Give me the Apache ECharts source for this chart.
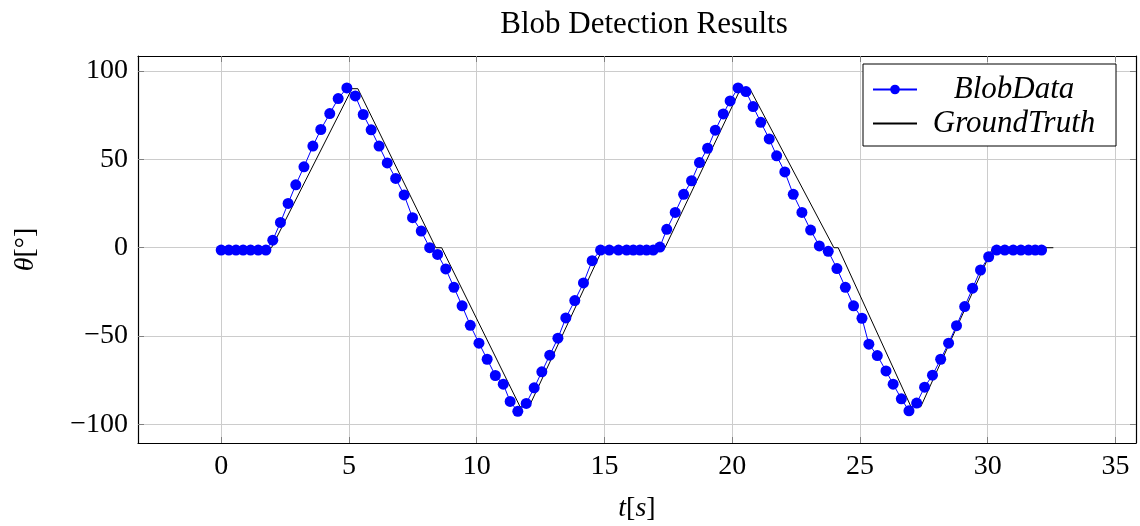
<!DOCTYPE html>
<html>
<head>
<meta charset="utf-8">
<script src="https://cdn.jsdelivr.net/npm/echarts@6/dist/echarts.min.js"></script>
<style>
html,body{margin:0;padding:0;background:#fff;}
#chart{width:1140px;height:526px;}
</style>
</head>
<body>
<div id="chart"></div>
<script>
// ---- data ----
const blobT = [0.00,0.30,0.58,0.86,1.15,1.45,1.75,2.02,2.32,2.62,2.92,3.24,3.59,3.90,4.25,4.58,4.92,5.25,5.56,5.87,6.18,6.50,6.83,7.16,7.49,7.83,8.16,8.47,8.79,9.11,9.43,9.75,10.09,10.41,10.73,11.04,11.31,11.61,11.94,12.25,12.55,12.86,13.18,13.49,13.84,14.18,14.52,14.85,15.19,15.55,15.87,16.13,16.39,16.65,16.91,17.17,17.44,17.77,18.10,18.41,18.72,19.04,19.34,19.65,19.92,20.23,20.54,20.82,21.12,21.45,21.74,22.06,22.39,22.73,23.07,23.41,23.76,24.10,24.43,24.75,25.08,25.35,25.68,26.02,26.30,26.62,26.92,27.22,27.53,27.84,28.16,28.47,28.78,29.10,29.41,29.72,30.04,30.35,30.67,31.00,31.30,31.60,31.86,32.11];
const blobTheta = [-1.3,-1.3,-1.3,-1.3,-1.3,-1.3,-1.3,4.3,14.3,25.1,35.6,45.8,57.5,66.9,75.9,84.4,90.4,85.9,75.4,66.7,57.5,48.0,39.2,29.9,17.0,9.4,0.0,-3.8,-12.0,-22.4,-32.9,-43.9,-54.0,-63.1,-72.3,-77.2,-87.0,-92.6,-88.1,-79.3,-70.2,-60.8,-51.2,-39.7,-29.9,-19.9,-7.3,-1.3,-1.3,-1.3,-1.3,-1.3,-1.3,-1.3,-1.3,0.4,10.4,20.0,30.2,37.9,48.2,56.3,66.5,75.7,83.1,90.4,88.4,79.9,71.0,61.6,52.0,42.9,30.2,20.0,10.0,1.0,-2.0,-11.8,-22.4,-32.9,-39.9,-54.6,-61.0,-69.7,-77.2,-85.5,-92.3,-87.9,-78.9,-72.1,-63.1,-54.0,-44.1,-33.3,-22.9,-12.6,-5.1,-1.3,-1.3,-1.3,-1.3,-1.3,-1.3,-1.3];
const truthT = [0,1.97,5.12,5.35,8.40,8.63,11.70,12.05,14.95,17.37,20.33,20.69,23.98,24.15,27.00,27.38,30.20,32.57];
const truthTheta = [0,0,90,90,0,0,-90,-90,0,0,90,90,0,0,-90,-90,0,0];
const xTicks = [0,5,10,15,20,25,30,35];
const yTicks = [-100,-50,0,50,100];
const seriesNames = ['BlobData','GroundTruth'];
const titleText = 'Blob Detection Results';

const blobData = blobT.map((t,i)=>[t,blobTheta[i]]);
const truthData = truthT.map((t,i)=>[t,truthTheta[i]]);

const FONT = '"Liberation Serif", "Times New Roman", serif';
const fmtNum = v => (v < 0 ? '\u2212' + Math.abs(v) : String(v));

const xMin = -3.255, xMax = 35.805, yMin = -110.5, yMax = 108.5;

const commonSplit = {show:true, lineStyle:{color:'#cccccc', width:1}};
const chart = echarts.init(document.getElementById('chart'), null, {renderer:'canvas'});
chart.setOption({
  animation:false,
  backgroundColor:'#ffffff',
  title:{
    text:titleText, left:639, top:4, textAlign:'center',
    textStyle:{fontFamily:FONT, fontSize:31, fontWeight:'normal', color:'#000'}
  },
  grid:{left:138, right:4, top:56, bottom:83, containLabel:false, outerBoundsMode:'none'},
  legend:{
    data:seriesNames, orient:'vertical', right:24, top:64,
    backgroundColor:'#fff', borderColor:'#000', borderWidth:1,
    padding:[10,10,7,9], itemWidth:44, itemHeight:12, itemGap:3,
    formatter: name => '{c|' + name + '}',
    textStyle:{
      fontFamily:FONT, fontStyle:'italic', fontSize:31, color:'#000',
      rich:{c:{width:184, align:'center', fontFamily:FONT, fontStyle:'italic', fontSize:31, lineHeight:35}}
    }
  },
  xAxis:[{
    type:'value', min:xMin, max:xMax, position:'bottom',
    axisLine:{show:true, onZero:false, lineStyle:{color:'#000', width:1.2}},
    axisTick:{show:true, inside:true, length:6, customValues:xTicks, lineStyle:{color:'#808080'}},
    axisLabel:{show:true, customValues:xTicks, margin:10, formatter:fmtNum,
      fontFamily:FONT, fontSize:28, color:'#000'},
    splitLine:commonSplit,
    name:'{i|t}[{i|s}]', nameLocation:'middle', nameGap:52,
    nameTextStyle:{fontFamily:FONT, fontSize:28, color:'#000',
      rich:{i:{fontFamily:FONT, fontStyle:'italic', fontSize:28, color:'#000'}}}
  },{
    type:'value', min:xMin, max:xMax, position:'top',
    axisLine:{show:true, onZero:false, lineStyle:{color:'#000', width:1.2}},
    axisTick:{show:true, inside:true, length:6, customValues:xTicks, lineStyle:{color:'#808080'}},
    axisLabel:{show:false}, splitLine:{show:false}
  }],
  yAxis:[{
    type:'value', min:yMin, max:yMax, position:'left',
    axisLine:{show:true, onZero:false, lineStyle:{color:'#000', width:1.2}},
    axisTick:{show:true, inside:true, length:6, customValues:yTicks, lineStyle:{color:'#808080'}},
    axisLabel:{show:true, customValues:yTicks, margin:10, formatter:fmtNum,
      fontFamily:FONT, fontSize:28, color:'#000'},
    splitLine:commonSplit,
    name:'{i|\u03b8}[\u00b0]', nameLocation:'middle', nameGap:98,
    nameTextStyle:{fontFamily:FONT, fontSize:28, color:'#000',
      rich:{i:{fontFamily:FONT, fontStyle:'italic', fontSize:28, color:'#000'}}}
  },{
    type:'value', min:yMin, max:yMax, position:'right',
    axisLine:{show:true, onZero:false, lineStyle:{color:'#000', width:1.2}},
    axisTick:{show:true, inside:true, length:6, customValues:yTicks, lineStyle:{color:'#808080'}},
    axisLabel:{show:false}, splitLine:{show:false}
  }],
  series:[{
    name:seriesNames[0], type:'line', data:blobData, z:3,
    symbol:'circle', symbolSize:11, showSymbol:true,
    lineStyle:{color:'#0000ff', width:1},
    itemStyle:{color:'#0000ff'}
  },{
    name:seriesNames[1], type:'line', data:truthData, z:2,
    symbol:'none', showSymbol:false,
    lineStyle:{color:'#000', width:1},
    itemStyle:{color:'#000', opacity:0}
  }]
});
</script>
</body>
</html>
